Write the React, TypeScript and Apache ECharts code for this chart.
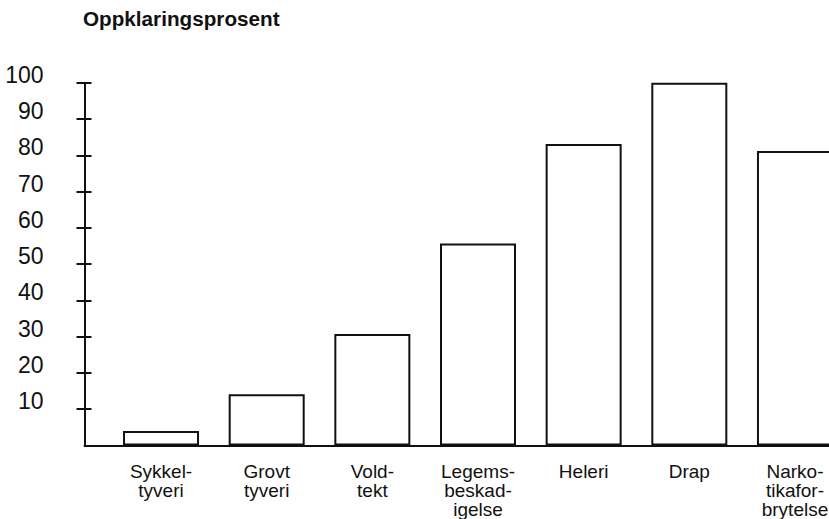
import React, { useEffect, useRef } from "react";
import * as echarts from "echarts";

const title = "Oppklaringsprosent";
const categories = [
  "Sykkel-\ntyveri",
  "Grovt\ntyveri",
  "Vold-\ntekt",
  "Legems-\nbeskad-\nigelse",
  "Heleri",
  "Drap",
  "Narko-\ntikafor-\nbrytelse",
];
const values = [4, 14.1, 30.7, 55.7, 83.1, 100, 81.2];
const yMin = 0;
const yMax = 100;
const yInterval = 10;

const FONT = "'Liberation Sans', Arial, Helvetica, sans-serif";
const INK = "#111";

export default function App() {
  const ref = useRef<HTMLDivElement>(null);
  useEffect(() => {
    if (!ref.current) return;
    const chart = echarts.init(ref.current, undefined, { renderer: "svg" });
    const gridTop = 82.7;
    const gridBottom = 73.5;
    chart.setOption({
      animation: false,
      backgroundColor: "#fff",
      title: {
        text: title,
        left: 83,
        top: 8,
        padding: 0,
        textStyle: { fontFamily: FONT, fontSize: 20.7, fontWeight: "bold", color: INK },
      },
      grid: [
        { left: 84.5, right: 0, top: gridTop, bottom: gridBottom, outerBoundsMode: "none", containLabel: false },
        { left: 108.2, width: 739.6, top: gridTop, bottom: gridBottom, outerBoundsMode: "none", containLabel: false },
      ],
      xAxis: [
        {
          gridIndex: 0,
          type: "value",
          min: 0,
          max: 1,
          axisLine: { show: true, onZero: false, lineStyle: { color: INK, width: 2 } },
          axisTick: { show: false },
          axisLabel: { show: false },
          splitLine: { show: false },
        },
        {
          gridIndex: 1,
          type: "category",
          data: categories,
          axisLine: { show: false },
          axisTick: { show: false },
          axisLabel: {
            fontFamily: FONT,
            fontSize: 19,
            lineHeight: 19,
            color: INK,
            margin: 16,
            interval: 0,
            align: "center",
            hideOverlap: false,
          },
          splitLine: { show: false },
        },
      ],
      yAxis: [
        {
          gridIndex: 0,
          type: "value",
          min: yMin,
          max: yMax,
          interval: yInterval,
          axisLine: { show: true, onZero: false, lineStyle: { color: INK, width: 2 } },
          axisTick: { show: true, length: 8, lineStyle: { color: INK, width: 2 } },
          axisLabel: {
            fontFamily: FONT,
            fontSize: 23,
            color: INK,
            margin: 41,
            showMinLabel: false,
            verticalAlign: "bottom",
            lineHeight: 16,
          },
          splitLine: { show: false },
        },
        {
          gridIndex: 0,
          type: "value",
          position: "left",
          min: yMin,
          max: yMax,
          interval: yInterval,
          axisLine: { show: false },
          axisTick: { show: true, inside: true, length: 7, lineStyle: { color: INK, width: 2 } },
          axisLabel: { show: false },
          splitLine: { show: false },
        },
        {
          gridIndex: 1,
          type: "value",
          min: yMin,
          max: yMax,
          show: false,
          splitLine: { show: false },
        },
      ],
      series: [
        {
          type: "bar",
          xAxisIndex: 1,
          yAxisIndex: 2,
          data: values,
          barWidth: 76,
          itemStyle: { color: "#fff", borderColor: INK, borderWidth: 2 },
        },
      ],
    });
    return () => chart.dispose();
  }, []);
  return <div ref={ref} style={{ width: 829, height: 519, position: "absolute", left: 0, top: 0 }} />;
}
